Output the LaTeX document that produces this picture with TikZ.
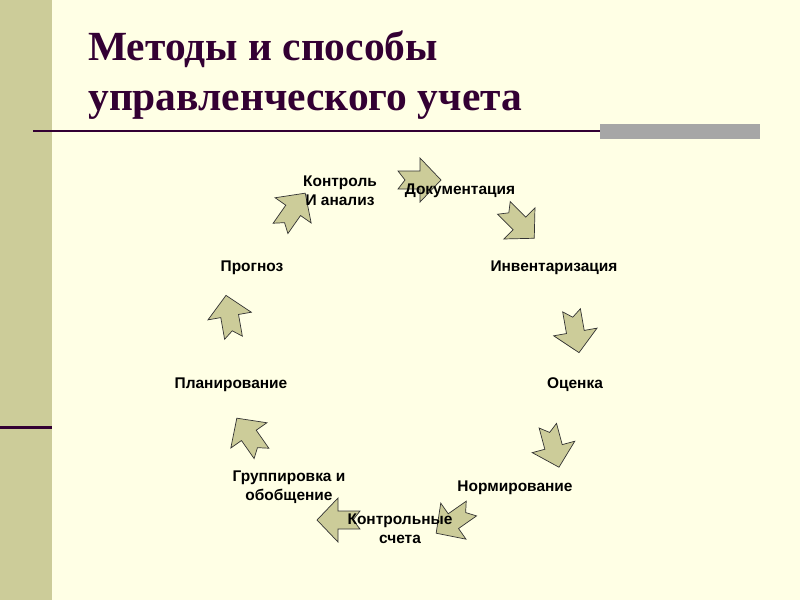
\documentclass[tikz,border=0pt]{standalone}
\usepackage{fontspec}
\setmainfont{Liberation Sans}
\newfontfamily\titlefont{Liberation Serif}
\definecolor{bg}{HTML}{FFFFE5}
\definecolor{barc}{HTML}{CCCC99}
\definecolor{ttl}{HTML}{330033}
\definecolor{arrf}{HTML}{CCCC99}
\tikzset{lbl/.style={font=\bfseries\fontsize{11}{13.3}\selectfont,align=center,inner sep=0pt},
 blk/.style={fill=arrf,draw=black!80,line width=0.5pt,line join=miter}}
\newcommand{\blkarrow}[3]{%
 \draw[blk,shift={(#1,#2)},rotate=#3] (-20,9) -- (2,9) -- (2,22) -- (23,0) -- (2,-22) -- (2,-9) -- (-20,-9) -- (-13,0) -- cycle;}
\begin{document}
\begin{tikzpicture}[x=0.025cm,y=-0.025cm]
\fill[bg] (0,0) rectangle (800,600);
\useasboundingbox (0,0) rectangle (800,600);
\fill[barc] (0,0) rectangle (52,600);
\fill[ttl] (0,425.5) rectangle (52,428.5);
\fill[gray!70] (600,124) rectangle (760,139);
\draw[ttl,line width=1.5pt] (33,131) -- (600,131);
\node[anchor=north west,align=left,text=ttl,inner sep=0pt,font=\titlefont\bfseries\fontsize{29.5}{35}\selectfont] (t) at (88,31) {Методы и способы\\управленческого учета};
\blkarrow{418}{180}{0}
\blkarrow{518}{222}{-45}
\blkarrow{575}{330}{-80}
\blkarrow{553}{445}{-75}
\blkarrow{455}{520}{-145}
\blkarrow{340}{520}{180}
\blkarrow{250}{437}{125}
\blkarrow{230}{318}{100}
\blkarrow{292}{212}{55}
\node[lbl] (a1) at (460,191) {Документация};
\node[lbl] (a2) at (554,268) {Инвентаризация};
\node[lbl] (a3) at (575,385) {Оценка};
\node[lbl] (a4) at (515,488) {Нормирование};
\node[lbl] (a5) at (400,529) {Контрольные\\счета};
\node[lbl] (a6) at (289,487) {Группировка и\\обобщение};
\node[lbl] (a7) at (231,385) {Планирование};
\node[lbl] (a8) at (252,268) {Прогноз};
\node[lbl] (a9) at (340,191) {Контроль\\И анализ};
\end{tikzpicture}
\end{document}
